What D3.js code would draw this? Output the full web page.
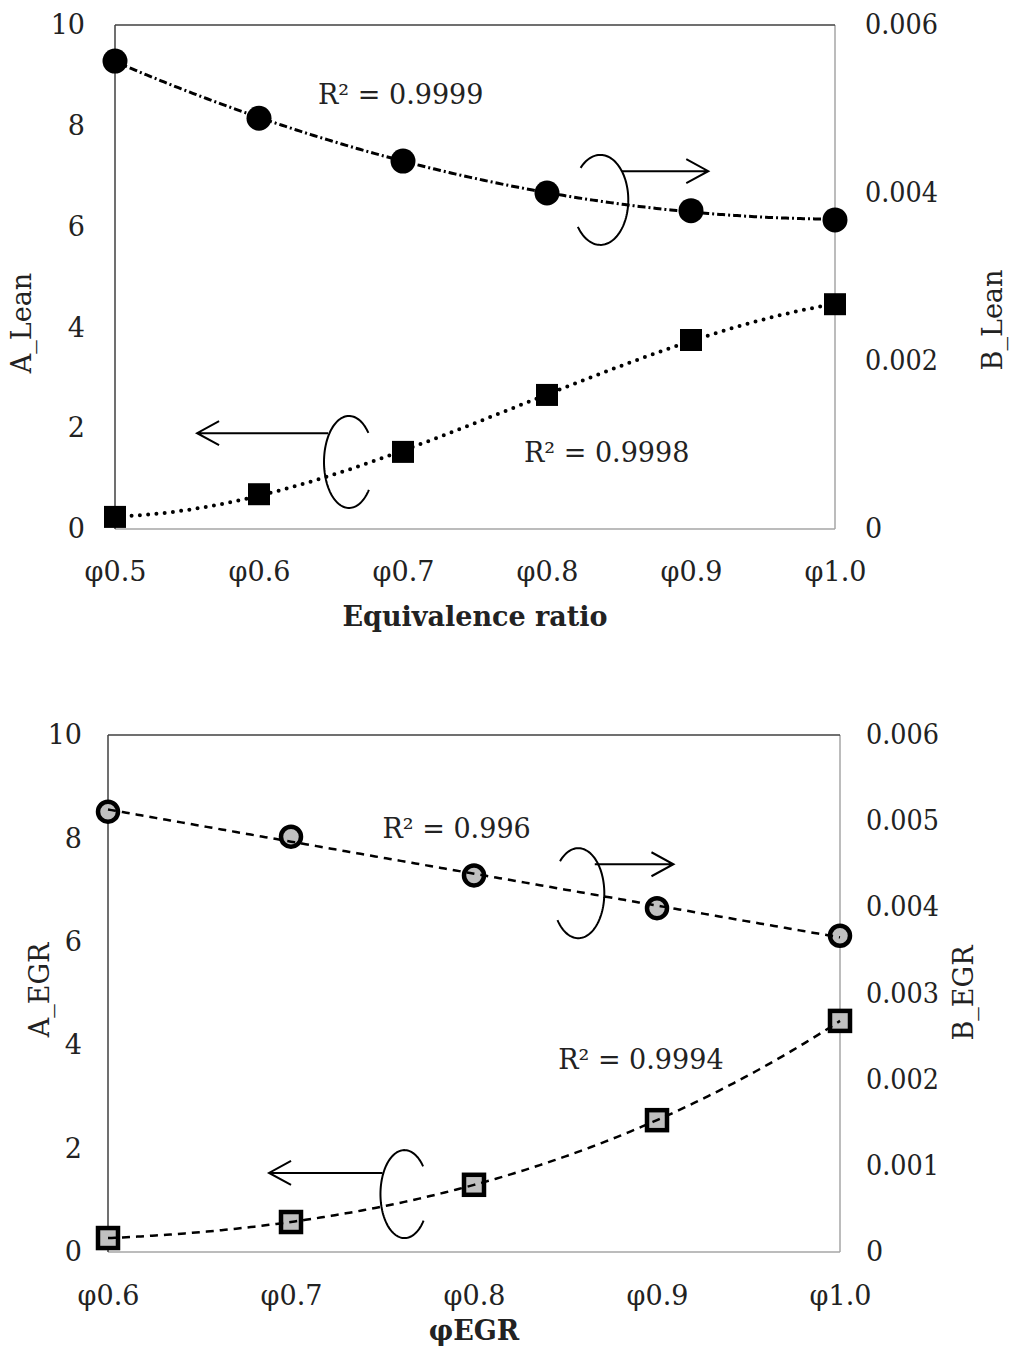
<!DOCTYPE html>
<html>
<head>
<meta charset="utf-8">
<script src="https://cdn.jsdelivr.net/npm/d3@7"></script>
<style>
  body { margin: 0; background: #fff; }
  text { font-family: "DejaVu Serif", "Liberation Serif", serif; fill: #222; }
</style>
</head>
<body>
<svg id="chart" width="1009" height="1346"></svg>
<script>
// ---- data ----
const leanCategories = ["φ0.5", "φ0.6", "φ0.7", "φ0.8", "φ0.9", "φ1.0"];
const aLean = [0.24, 0.69, 1.53, 2.66, 3.75, 4.46];
const bLean = [0.00557, 0.00489, 0.00438, 0.00400, 0.00379, 0.00368];

const egrCategories = ["φ0.6", "φ0.7", "φ0.8", "φ0.9", "φ1.0"];
const aEgr = [0.27, 0.58, 1.30, 2.55, 4.47];
const bEgr = [0.00511, 0.00482, 0.00437, 0.00399, 0.00367];

const leftTicks = [0, 2, 4, 6, 8, 10];
const rightTicksLean = [0, 0.002, 0.004, 0.006];
const rightTicksEgr = [0, 0.001, 0.002, 0.003, 0.004, 0.005, 0.006];

const r2Lean = ["R² = 0.9999", "R² = 0.9998"];
const r2Egr = ["R² = 0.996", "R² = 0.9994"];

// ---- helpers ----
// least-squares polynomial trendline on x = 1..n
function polyfit(ys, order) {
  const n = ys.length, m = order + 1;
  const A = Array.from({length: m}, () => Array(m + 1).fill(0));
  for (let i = 0; i < n; i++) {
    const x = i + 1;
    for (let r = 0; r < m; r++) {
      for (let c = 0; c < m; c++) A[r][c] += Math.pow(x, r + c);
      A[r][m] += ys[i] * Math.pow(x, r);
    }
  }
  for (let i = 0; i < m; i++) {
    let p = i;
    for (let k = i + 1; k < m; k++) if (Math.abs(A[k][i]) > Math.abs(A[p][i])) p = k;
    [A[i], A[p]] = [A[p], A[i]];
    for (let k = i + 1; k < m; k++) {
      const f = A[k][i] / A[i][i];
      for (let j = i; j <= m; j++) A[k][j] -= f * A[i][j];
    }
  }
  const c = Array(m).fill(0);
  for (let i = m - 1; i >= 0; i--) {
    let s = A[i][m];
    for (let j = i + 1; j < m; j++) s -= A[i][j] * c[j];
    c[i] = s / A[i][i];
  }
  return x => c.reduce((s, ci, k) => s + ci * Math.pow(x, k), 0);
}

const svg = d3.select("#chart");
const FONT = 27;

function drawPanel(cfg) {
  const {box, cats, aVals, bVals, rightTicks, rightFmt, aOrder, bOrder} = cfg;
  const g = svg.append("g");
  const x = d3.scalePoint().domain(cats).range([box.left, box.right]).padding(0);
  const xi = d3.scaleLinear().domain([1, cats.length]).range([box.left, box.right]);
  const yL = d3.scaleLinear().domain([0, 10]).range([box.bottom, box.top]);
  const yR = d3.scaleLinear().domain([0, 0.006]).range([box.bottom, box.top]);

  // frame: dark left/top, grey right/bottom
  g.append("line").attr("x1", box.left).attr("x2", box.right).attr("y1", box.bottom).attr("y2", box.bottom)
    .attr("stroke", "#a6a6a6").attr("stroke-width", 1.5);
  g.append("line").attr("x1", box.right).attr("x2", box.right).attr("y1", box.top).attr("y2", box.bottom)
    .attr("stroke", "#a6a6a6").attr("stroke-width", 1.5);
  g.append("line").attr("x1", box.left).attr("x2", box.right).attr("y1", box.top).attr("y2", box.top)
    .attr("stroke", "#404040").attr("stroke-width", 1.5);
  g.append("line").attr("x1", box.left).attr("x2", box.left).attr("y1", box.top).attr("y2", box.bottom)
    .attr("stroke", "#404040").attr("stroke-width", 1.5);

  // axes (labels only)
  const axL = g.append("g").attr("transform", `translate(${box.left},0)`)
    .call(d3.axisLeft(yL).tickValues(leftTicks).tickSize(0).tickPadding(box.leftPad).tickFormat(d3.format("d")));
  const axR = g.append("g").attr("transform", `translate(${box.right},0)`)
    .call(d3.axisRight(yR).tickValues(rightTicks).tickSize(0).tickPadding(box.rightPad).tickFormat(rightFmt));
  const axB = g.append("g").attr("transform", `translate(0,${box.bottom})`)
    .call(d3.axisBottom(x).tickSize(0).tickPadding(box.bottomPad));
  [axL, axR, axB].forEach(a => {
    a.select(".domain").remove();
    a.selectAll("text").style("font-size", FONT + "px").attr("fill", "#222")
      .style("font-family", '"DejaVu Serif", serif');
  });
  axR.selectAll("text").attr("textLength", d => d === 0 ? null : 73).attr("lengthAdjust", "spacingAndGlyphs");

  // axis titles
  g.append("text").attr("transform", `translate(${box.aTitleX},${box.aTitleY}) rotate(-90)`)
    .attr("text-anchor", "middle").attr("dy", "0.35em").style("font-size", FONT + "px").text(cfg.aTitle);
  g.append("text").attr("transform", `translate(${box.bTitleX},${box.bTitleY}) rotate(-90)`)
    .attr("text-anchor", "middle").attr("dy", "0.35em").style("font-size", FONT + "px").text(cfg.bTitle);
  g.append("text").attr("x", (box.left + box.right) / 2).attr("y", box.xTitleY)
    .attr("text-anchor", "middle").style("font-size", FONT + "px").style("font-weight", "bold").text(cfg.xTitle);

  // markers
  const st = cfg.markerStyle;
  g.selectAll("rect.a").data(aVals).join("rect").attr("class", "a")
    .attr("x", (d, i) => x(cats[i]) - st.sq / 2).attr("y", d => yL(d) - st.sq / 2)
    .attr("width", st.sq).attr("height", st.sq)
    .attr("fill", st.fill).attr("stroke", "#000").attr("stroke-width", st.sw);
  g.selectAll("circle.b").data(bVals).join("circle").attr("class", "b")
    .attr("cx", (d, i) => x(cats[i])).attr("cy", d => yR(d)).attr("r", st.r)
    .attr("fill", st.fill).attr("stroke", "#000").attr("stroke-width", st.sw);

  // trendlines
  const fa = polyfit(aVals, aOrder), fb = polyfit(bVals, bOrder);
  const ts = d3.range(1, cats.length + 0.0001, 0.02);
  g.append("path").datum(ts)
    .attr("d", d3.line().x(t => xi(t)).y(t => yL(fa(t))))
    .attr("fill", "none").attr("stroke", "#000").attr("stroke-width", cfg.aLine.w)
    .attr("stroke-dasharray", cfg.aLine.dash).attr("stroke-linecap", cfg.aLine.cap);
  g.append("path").datum(ts)
    .attr("d", d3.line().x(t => xi(t)).y(t => yR(fb(t))))
    .attr("fill", "none").attr("stroke", "#000").attr("stroke-width", cfg.bLine.w)
    .attr("stroke-dasharray", cfg.bLine.dash).attr("stroke-linecap", cfg.bLine.cap);

  // R² labels
  cfg.r2.forEach((lab, i) => {
    const p = cfg.r2Pos[i];
    g.append("text").attr("x", xi(p[0])).attr("y", yL(p[1]))
      .style("font-size", FONT + "px").text(lab);
  });

  // axis indicators: open ellipse with arrow
  cfg.pointers.forEach(p => {
    const cx = xi(p.c[0]), cy = yL(p.c[1]);
    const pts = d3.range(p.t0, p.t1 + 1e-6, 0.05).map(t => [cx + p.rx * Math.cos(t), cy + p.ry * Math.sin(t)]);
    g.append("path").attr("d", d3.line()(pts)).attr("fill", "none").attr("stroke", "#000").attr("stroke-width", 2);
    const ay = yL(p.arrowY), x0 = xi(p.from), x1 = xi(p.to);
    const dir = Math.sign(x1 - x0);
    g.append("path")
      .attr("d", `M${x0},${ay}H${x1}M${x1 - dir * 22},${ay - 12}L${x1},${ay}L${x1 - dir * 22},${ay + 12}`)
      .attr("fill", "none").attr("stroke", "#000").attr("stroke-width", 2);
  });
}

drawPanel({
  box: {left: 115, right: 835, top: 25, bottom: 529, leftPad: 30, rightPad: 30, bottomPad: 33,
        aTitleX: 22, aTitleY: 323, bTitleX: 993, bTitleY: 320, xTitleY: 626},
  cats: leanCategories, aVals: aLean, bVals: bLean,
  rightTicks: rightTicksLean, rightFmt: d => d === 0 ? "0" : d3.format(".3f")(d),
  aOrder: 3, bOrder: 2,
  aTitle: "A_Lean", bTitle: "B_Lean", xTitle: "Equivalence ratio",
  markerStyle: {sq: 22, r: 12.5, fill: "#000", sw: 0},
  aLine: {w: 4, dash: "0,8.3", cap: "round"},
  bLine: {w: 3, dash: "8,3,2,3", cap: "butt"},
  r2: r2Lean, r2Pos: [[2.41, 8.43], [3.84, 1.33]],
  pointers: [
    {c: [4.37, 6.53], rx: 28, ry: 45, t0: -2.35, t1: 2.5, arrowY: 7.1, from: 4.52, to: 5.12},
    {c: [2.625, 1.33], rx: 25, ry: 46, t0: 0.65, t1: 2 * Math.PI - 0.65, arrowY: 1.9, from: 2.48, to: 1.57}
  ]
});

drawPanel({
  box: {left: 108, right: 840, top: 735, bottom: 1252, leftPad: 26, rightPad: 26, bottomPad: 34,
        aTitleX: 40, aTitleY: 990, bTitleX: 964, bTitleY: 993, xTitleY: 1340},
  cats: egrCategories, aVals: aEgr, bVals: bEgr,
  rightTicks: rightTicksEgr, rightFmt: d => d === 0 ? "0" : d3.format(".3f")(d),
  aOrder: 3, bOrder: 2,
  aTitle: "A_EGR", bTitle: "B_EGR", xTitle: "φEGR",
  markerStyle: {sq: 20, r: 10, fill: "#c0c0c0", sw: 4.5},
  aLine: {w: 2.5, dash: "8,6", cap: "butt"},
  bLine: {w: 2.5, dash: "8,6", cap: "butt"},
  r2: r2Egr, r2Pos: [[2.50, 8.01], [3.46, 3.54]],
  pointers: [
    {c: [3.57, 6.94], rx: 26, ry: 45, t0: -2.35, t1: 2.5, arrowY: 7.5, from: 3.66, to: 4.09},
    {c: [2.62, 1.12], rx: 24, ry: 44, t0: 0.65, t1: 2 * Math.PI - 0.65, arrowY: 1.53, from: 2.50, to: 1.88}
  ]
});
</script>
</body>
</html>
